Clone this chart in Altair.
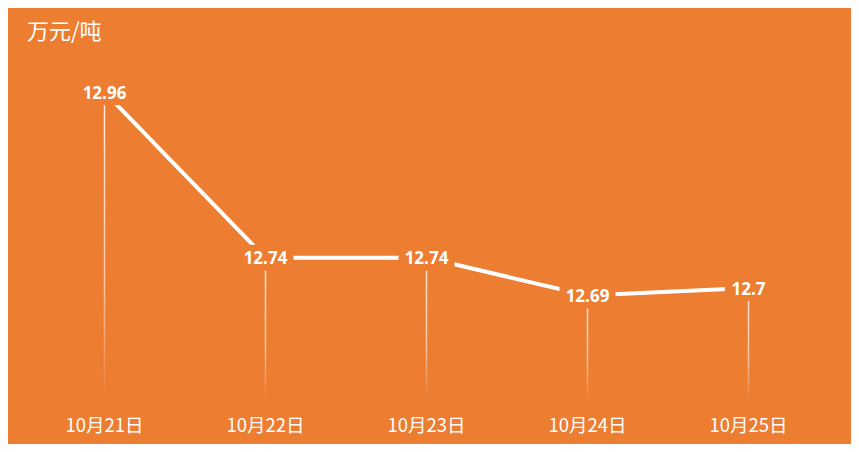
import altair as alt
import pandas as pd

dates = ["10月21日", "10月22日", "10月23日", "10月24日", "10月25日"]
prices = [12.96, 12.74, 12.74, 12.69, 12.70]
labels = ["12.96", "12.74", "12.74", "12.69", "12.7"]

ORANGE = "#ED7D31"
df = pd.DataFrame({"date": dates, "price": prices, "label": labels})

x = alt.X("date:N", sort=dates,
          scale=alt.Scale(paddingInner=0, paddingOuter=0),
          axis=alt.Axis(title=None, labelAngle=0, labelColor="white", labelFontSize=18.5,
                        labelFont="Noto Sans CJK SC", labelPadding=15, domain=False,
                        ticks=False, grid=False, labelBaseline="top"))
y = alt.Y("price:Q", scale=alt.Scale(domain=[12.55, 13.0], zero=False, nice=False), axis=None)

base = alt.Chart(df)

drops = base.mark_bar(size=1.5, color=alt.Gradient(
    gradient="linear",
    stops=[alt.GradientStop(offset=0, color="#FDEBDF"),
           alt.GradientStop(offset=0.6, color="#F7C8A6"),
           alt.GradientStop(offset=1, color=ORANGE)],
    x1=0, x2=0, y1=0, y2=1)).encode(x=x, y=y, y2=alt.datum(12.55))

line = base.mark_line(color="white", strokeWidth=4).encode(x=x, y=y)

boxes = base.transform_calculate(
    w="6 + 4.4*length(datum.label)"
).transform_calculate(
    shp="'M' + (-datum.w) + ',-13L' + datum.w + ',-13L' + datum.w + ',13L' + (-datum.w) + ',13Z'"
).mark_point(filled=True, color=ORANGE, opacity=1, size=4, strokeWidth=0).encode(
    x=x, y=y, shape=alt.Shape("shp:N", scale=None))

texts = base.mark_text(color="white", fontSize=17, fontWeight="bold", font="Open Sans",
                       baseline="middle", dy=1.5).encode(x=x, y=y, text="label:N")

chart = alt.layer(drops, line, boxes, texts).properties(
    width=805, height=339,
    autosize=alt.AutoSizeParams(type="none"),
    padding={"left": 16, "top": 54, "right": 22, "bottom": 43},
    background=ORANGE,
    title=alt.TitleParams("万元/吨", anchor="start", color="white", fontSize=22,
                          font="Noto Sans CJK SC", fontWeight="normal",
                          baseline="alphabetic", offset=1, dx=3, frame="group"),
).configure_view(stroke=None)

chart.save("out.html", embed_options={"renderer": "svg", "actions": False})
